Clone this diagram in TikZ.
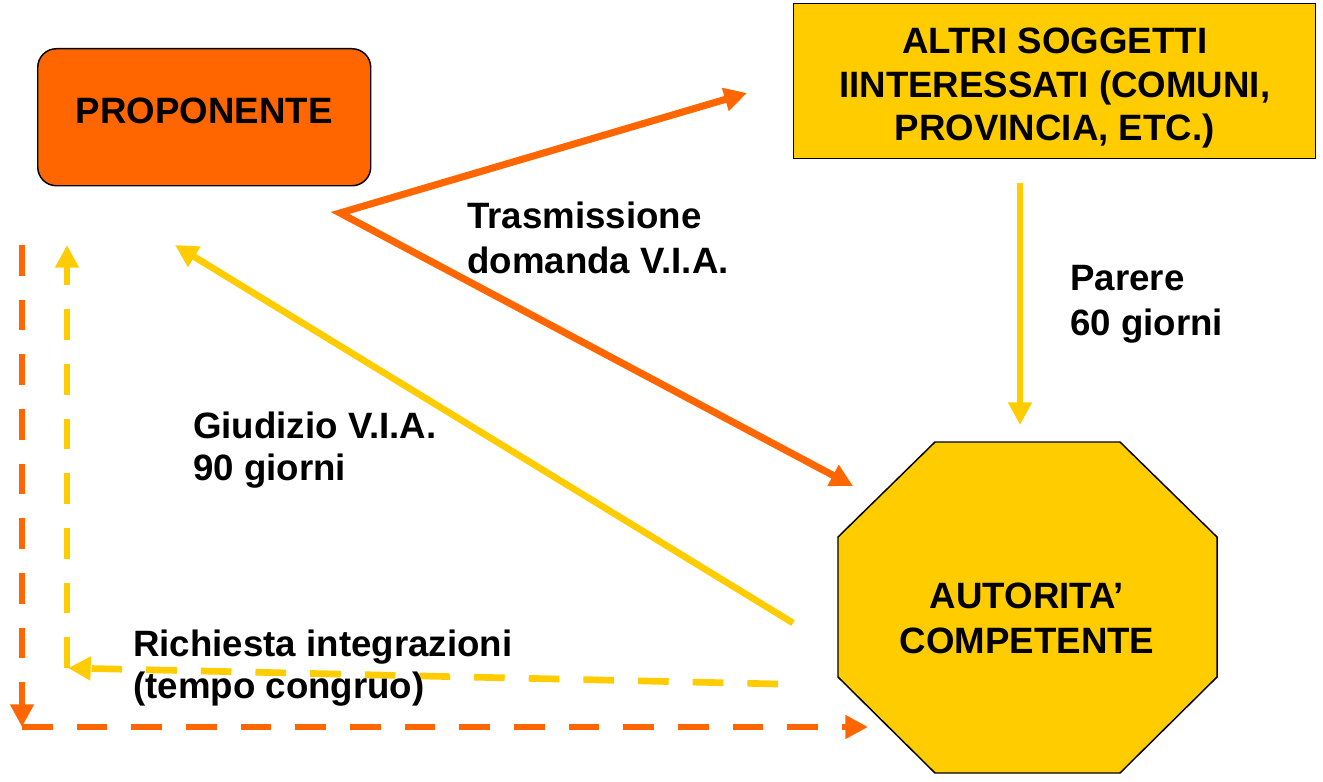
\documentclass[tikz,border=0pt]{standalone}
\usepackage{fontspec}
\setmainfont{Liberation Sans}
\usetikzlibrary{arrows.meta}
\definecolor{orng}{HTML}{FF6600}
\definecolor{ylw}{HTML}{FFCC00}
\begin{document}
\begin{tikzpicture}[x=0.75pt,y=-0.75pt,
  txt/.style={font=\bfseries\fontsize{27.5}{33}\selectfont, inner sep=0pt},
  lbl/.style={txt, align=left, anchor=base west},
  conn/.style={line width=5pt, -{Triangle[length=17pt,width=17pt]}},
  dconn/.style={conn, dash pattern=on 23pt off 18pt},
  boxline/.style={draw=black, line width=1.1pt}
]
\useasboundingbox (0,0) rectangle (1323,781);

% PROPONENTE
\node[boxline, fill=orng, rounded corners=14pt, txt, minimum width=249.75pt,
      text height=56.25pt, text depth=46.5pt, anchor=north west] (prop) at (37,48) {PROPONENTE};

% ALTRI SOGGETTI
\node[boxline, fill=ylw, txt, align=center, anchor=north west,
      minimum width=391.5pt, text height=102.75pt, text depth=13.5pt,
      font=\bfseries\fontsize{27.5}{32.6}\selectfont] (altri) at (793,3)
      {ALTRI SOGGETTI\\IINTERESSATI (COMUNI,\\PROVINCIA, ETC.)};

% AUTORITA' COMPETENTE
\draw[boxline, fill=ylw] (935,442) -- (1120,442) -- (1217,537) -- (1217,677)
   -- (1120,773) -- (935,773) -- (838,677) -- (838,537) -- cycle;
\node[txt, align=center, anchor=base, font=\bfseries\fontsize{27.5}{33.75}\selectfont] (aut) at (1027,653)
   {AUTORITA’\\COMPETENTE};

% coordinates
\coordinate (t0) at (340,213);
\coordinate (t1) at (747,93);
\coordinate (t2) at (853,486);
\coordinate (p0) at (1020,183);
\coordinate (p1) at (1020,425);
\coordinate (g0) at (793,623);
\coordinate (g1) at (175,245);
\coordinate (r0) at (778,684);
\coordinate (r1) at (68,668);
\coordinate (rc) at (67,668);
\coordinate (r2) at (67,245);
\coordinate (o0) at (22,245);
\coordinate (o1) at (22,727);
\coordinate (o2) at (868,727);

% connectors
\draw[conn, orng, line width=5.3pt, {Triangle[length=17pt,width=17pt]}-{Triangle[length=17pt,width=17pt]}] (t1) -- (t0) -- (t2);
\draw[conn, ylw] (p0) -- (p1);
\draw[conn, ylw] (g0) -- (g1);
\draw[dconn, ylw] (r0) -- (r1);
\draw[dconn, ylw] (rc) -- (r2);
\draw[dconn, orng] (o0) -- (o1);
\draw[dconn, orng] (o1) -- (o2);

% labels (base anchor = baseline of last line)
\node[lbl, font=\bfseries\fontsize{27.5}{33.75}\selectfont] (ltras) at (467,273) {Trasmissione\\domanda V.I.A.};
\node[lbl, font=\bfseries\fontsize{27.5}{33.75}\selectfont] (lpar) at (1070,335) {Parere\\60 giorni};
\node[lbl, font=\bfseries\fontsize{27.5}{31}\selectfont] (lgiu) at (193,480) {Giudizio V.I.A.\\90 giorni};
\node[lbl, font=\bfseries\fontsize{27.5}{31}\selectfont] (lric) at (133,698) {Richiesta integrazioni\\(tempo congruo)};
\end{tikzpicture}
\end{document}
